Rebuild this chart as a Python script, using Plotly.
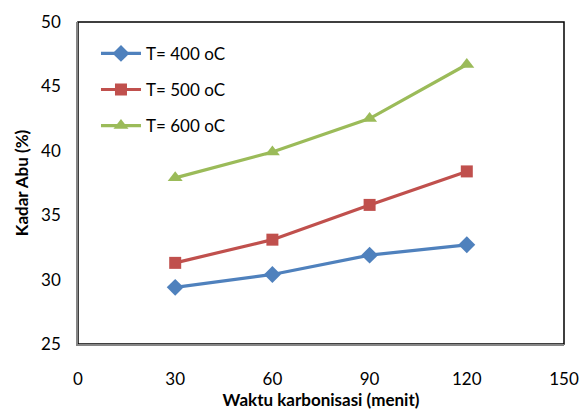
import plotly.graph_objects as go

waktu = [30, 60, 90, 120]
t400 = [29.4, 30.4, 31.9, 32.7]
t500 = [31.3, 33.1, 35.8, 38.4]
t600 = [37.9, 39.9, 42.5, 46.7]
names = ["T= 400 oC", "T= 500 oC", "T= 600 oC"]
colors = ["#4F81BD", "#C0504D", "#9BBB59"]
symbols = ["diamond", "square", "triangle-up"]

fig = go.Figure()
for i, (ys, nm) in enumerate(zip([t400, t500, t600], names)):
    fig.add_trace(go.Scatter(
        x=waktu, y=ys, name=nm, mode="lines+markers",
        line=dict(color=colors[i], width=3.2),
        marker=dict(symbol=symbols[i], size=13 if i != 1 else 12, color=colors[i]),
        legendgroup=str(i),
    ))

font = "Lato, sans-serif"
fig.update_layout(
    width=579, height=410,
    margin=dict(l=78, r=15, t=22, b=66, autoexpand=False),
    paper_bgcolor="white", plot_bgcolor="white",
    font=dict(family=font, size=17, color="#000"),
    showlegend=True,
    legend=dict(x=0.037, y=0.957, xanchor="left", yanchor="top",
                bgcolor="rgba(0,0,0,0)", tracegroupgap=11, itemwidth=40,
                font=dict(size=17)),
    xaxis=dict(range=[0, 150], tickvals=[0, 30, 60, 90, 120, 150],
               showgrid=False, zeroline=False, showline=True,
               linecolor="#868686", linewidth=1.5, mirror=False,
               ticks="", ticklabelstandoff=19, automargin=False,
               title=dict(text="<b>Waktu karbonisasi (menit)</b>", standoff=23,
                          font=dict(size=17))),
    yaxis=dict(range=[25, 50], tickvals=[25, 30, 35, 40, 45, 50],
               showgrid=False, zeroline=False, showline=True,
               linecolor="#868686", linewidth=1.5, automargin=False,
               ticks="", ticklabelstandoff=12,
               title=dict(text="<b>Kadar Abu (%)</b>", standoff=8,
                          font=dict(size=17))),
    shapes=[dict(type="rect", xref="paper", yref="paper", x0=0, y0=0, x1=1, y1=1,
                 line=dict(color="#000", width=1.5), layer="below")],
)
fig.write_html("out.html", config={"displayModeBar": False},
               post_script="document.body.style.margin='0';document.body.style.overflow='hidden';")
